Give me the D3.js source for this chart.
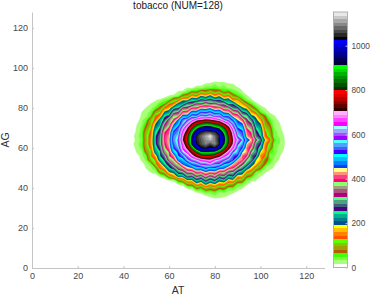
<!DOCTYPE html>
<html>
<head>
<meta charset="utf-8">
<script src="https://cdn.jsdelivr.net/npm/d3@7"></script>
<style>
    body { margin: 0; background: #fff; }
    svg { display: block; font-family: "Liberation Sans", Arial, sans-serif; }
    .axis text { font-size: 9px; fill: #484848; }
    .bar-axis text { font-size: 8.3px; }
    .axis path, .axis line { stroke: #c4c4c4; }
    .label { font-size: 10.5px; fill: #303030; text-anchor: middle; }
</style>
</head>
<body>
<div id="chart"></div>
<script>
// Grid positions
var atGrid = [44,46,48,50,52,54,56,58,60,62,64,66,68,70,72,74,76,78,80,82,84,86,88,90,92,94,96,98,100,102,104,106,108,110,112];
var agGrid = [94,92,90,88,86,84,82,80,78,76,74,72,70,68,66,64,62,60,58,56,54,52,50,48,46,44,42,40,38,36,34];

// Counts per grid cell, one line per AG row (top to bottom), estimated from the colour bands
var counts = [
    0,0,0,0,0,0,0,0,0,0,0,0,0,0,0,0,0,2,6,8,3,0,0,0,0,0,0,0,0,0,0,0,0,0,0,
    0,0,0,0,0,0,0,0,0,0,0,0,0,0,0,8,18,20,30,24,28,18,16,4,0,0,0,0,0,0,0,0,0,0,0,
    0,0,0,0,0,0,0,0,0,0,0,0,18,12,32,26,44,40,52,34,44,26,28,18,12,0,0,0,0,0,0,0,0,0,0,
    0,0,0,0,0,0,0,0,0,0,20,24,42,72,66,104,84,118,84,100,62,74,42,34,18,2,0,0,0,0,0,0,0,0,0,
    0,0,0,0,0,0,0,0,18,24,34,84,96,158,140,194,172,208,160,186,128,146,88,60,40,20,4,0,0,0,0,0,0,0,0,
    0,0,0,0,0,14,20,40,50,100,120,186,182,240,228,272,258,278,248,258,212,220,150,158,70,36,20,3,0,0,0,0,0,0,0,
    0,0,0,0,18,22,50,62,128,146,216,228,288,286,336,328,366,336,352,306,314,252,254,180,162,84,52,24,8,0,0,0,0,0,0,
    0,0,2,18,24,48,72,138,164,238,256,330,336,392,392,434,426,442,404,414,358,352,288,274,200,176,100,58,28,16,2,0,0,0,0,
    0,0,16,24,38,86,116,198,222,304,320,398,408,470,470,518,508,526,488,490,438,430,366,346,266,238,156,122,48,26,14,0,0,0,0,
    0,2,20,28,52,130,150,250,264,366,372,470,466,548,540,608,590,618,570,584,504,510,424,412,318,304,206,182,98,68,26,18,4,0,0,
    0,6,26,46,104,140,222,270,348,390,462,540,580,630,680,700,720,710,690,660,610,570,512,446,404,328,284,204,160,80,52,22,14,0,0,
    0,16,28,64,102,192,228,318,362,444,490,566,640,720,790,830,860,850,820,790,720,660,574,472,458,350,326,220,194,92,68,26,20,6,0,
    2,20,36,80,124,216,258,348,392,480,532,620,700,800,890,950,970,965,930,900,830,730,620,516,490,384,356,250,224,116,84,32,22,10,0,
    4,22,38,102,136,242,270,382,410,526,550,660,740,880,980,1040,1060,1055,1050,980,890,780,660,552,524,412,380,270,238,136,100,38,28,14,0,
    10,28,40,110,144,252,286,396,424,542,570,684,790,920,1040,1080,1110,1145,1080,1040,930,800,684,574,542,424,396,286,250,142,110,36,30,18,2,
    6,24,36,104,150,252,292,400,434,548,580,700,800,940,1040,1070,1100,1120,1090,1030,950,810,700,624,572,478,432,332,288,188,140,56,38,20,4,
    12,28,40,108,150,250,296,386,432,536,576,666,770,930,1030,1065,1090,1060,1095,1040,920,800,690,584,550,434,402,294,258,154,114,40,32,20,6,
    6,24,36,98,138,238,274,374,418,516,558,652,720,850,960,1030,1040,1020,1035,960,860,730,656,560,516,416,376,278,238,144,104,36,28,18,4,
    2,20,28,82,116,222,252,354,386,490,520,620,660,740,830,900,915,905,890,830,740,670,580,556,450,424,316,288,184,154,54,46,24,14,0,
    0,6,26,48,124,164,252,292,382,420,510,540,610,670,730,780,790,790,760,720,660,620,532,516,414,390,284,260,154,130,42,34,20,6,0,
    0,0,20,36,108,130,230,260,356,376,472,488,565,600,630,660,680,690,650,620,590,552,524,430,414,316,296,192,170,68,62,24,16,2,0,
    0,0,6,24,40,120,156,242,274,356,382,460,476,536,550,594,594,626,578,576,514,498,434,404,330,296,214,178,102,68,28,18,8,0,0,
    0,0,0,18,26,50,140,170,248,278,346,372,434,446,496,492,530,502,514,470,462,410,390,326,290,220,178,110,78,30,22,14,2,0,0,
    0,0,0,0,18,24,84,114,190,210,282,304,360,366,414,410,448,420,430,392,384,332,314,250,224,152,120,48,34,20,8,0,0,0,0,
    0,0,0,0,0,6,22,42,116,148,218,222,292,280,342,316,374,326,360,300,324,246,266,170,172,78,66,24,18,4,0,0,0,0,0,
    0,0,0,0,0,0,0,4,18,24,82,114,194,192,258,230,290,248,276,216,244,172,188,108,96,40,26,18,2,0,0,0,0,0,0,
    0,0,0,0,0,0,0,0,0,4,18,26,88,94,174,148,208,166,190,150,154,106,94,48,44,20,4,0,0,0,0,0,0,0,0,
    0,0,0,0,0,0,0,0,0,0,0,4,20,24,78,62,112,90,104,74,84,48,50,24,18,2,0,0,0,0,0,0,0,0,0,
    0,0,0,0,0,0,0,0,0,0,0,0,0,8,18,22,44,38,52,30,36,24,22,12,0,0,0,0,0,0,0,0,0,0,0,
    0,0,0,0,0,0,0,0,0,0,0,0,0,0,0,4,14,20,30,24,22,14,4,0,0,0,0,0,0,0,0,0,0,0,0,
    0,0,0,0,0,0,0,0,0,0,0,0,0,0,0,0,0,2,6,8,2,0,0,0,0,0,0,0,0,0,0,0,0,0,0
];

var axisTicks = [0,20,40,60,80,100,120];
var colorTicks = [0,200,400,600,800,1000];

// Colour of each band, lowest first, each band is bandStep wide
var bandStep = 16;
var bandColors = [
    "#ffffff","#aaff78","#78ff40","#40ff00",
    "#b45a00","#a0a000","#80c800","#60ff00",
    "#ff5000","#ff8000","#ffc000","#ffff00",
    "#005090","#007f90","#00b090","#00ff80",
    "#4b0080","#405f80","#50a080","#50ff80",
    "#b00080","#b05080","#a0a080","#90ff70",
    "#ff0080","#ff4080","#ff9080","#ffff80",
    "#0040ff","#0080ff","#00c0ff","#00ffff",
    "#4000ff","#4060ff","#50a0ff","#50ffff",
    "#a000ff","#a050ff","#a0a0ff","#a0ffff",
    "#ff00ff","#ff40ff","#ff80ff","#ffb0ff",
    "#300000","#600000","#900000","#b80000","#e00000","#ff0000",
    "#003000","#005000","#007000","#009000","#00b000","#00d800","#00ff00",
    "#00003a","#000058","#000078","#000098","#0000b8","#0000d8","#0000ff",
    "#000000","#282828","#484848","#686868","#888888","#a8a8a8","#c8c8c8","#e8e8e8"
];

var width = 370, height = 295;
var left = 32, right = 324.5, top_ = 12, bottom = 268;
var barLeft = 333.5, barRight = 347.5;

var svg = d3.select("#chart").append("svg")
    .attr("width", width)
    .attr("height", height);

var xScale = d3.scaleLinear().domain([0, 128]).range([left, right]);
var yScale = d3.scaleLinear().domain([0, 128]).range([bottom, top_]);
var colorScale = d3.scaleLinear().domain([0, bandStep * bandColors.length]).range([bottom - 0.5, top_]);

// Contours come back in grid coordinates, cell centres sit at i + 0.5
var gridStep = atGrid[1] - atGrid[0];
var toPlot = d3.geoTransform({
    point: function (gx, gy) {
        this.stream.point(
            xScale(atGrid[0] + (gx - 0.5) * gridStep),
            yScale(agGrid[0] - (gy - 0.5) * gridStep)
        );
    }
});

var thresholds = bandColors.map(function (c, i) { return i * bandStep; }).slice(1);

var contours = d3.contours()
    .size([atGrid.length, agGrid.length])
    .thresholds(thresholds)(counts);

svg.append("g")
    .selectAll("path")
    .data(contours)
    .join("path")
    .attr("d", d3.geoPath(toPlot))
    .attr("fill", function (d, i) { return bandColors[i + 1]; })
    .attr("stroke", function (d, i) { return bandColors[i + 1]; })
    .attr("stroke-width", 0.3);

// Axes, ticks point inwards
var xAxis = d3.axisBottom(xScale).tickValues(axisTicks).tickSize(-2).tickPadding(5).tickSizeOuter(0);
var yAxis = d3.axisLeft(yScale).tickValues(axisTicks).tickSize(-2).tickPadding(4).tickSizeOuter(0);

svg.append("g").attr("class", "axis")
    .attr("transform", "translate(0," + bottom + ")")
    .call(xAxis);

svg.append("g").attr("class", "axis")
    .attr("transform", "translate(" + left + ",0)")
    .call(yAxis);

// Colour bar
svg.append("g")
    .attr("shape-rendering", "crispEdges")
    .selectAll("rect")
    .data(bandColors)
    .join("rect")
    .attr("x", barLeft)
    .attr("width", barRight - barLeft)
    .attr("y", function (d, i) { return colorScale((i + 1) * bandStep); })
    .attr("height", function (d, i) { return colorScale(i * bandStep) - colorScale((i + 1) * bandStep); })
    .attr("fill", function (d) { return d; });

svg.append("rect")
    .attr("x", barLeft)
    .attr("y", top_)
    .attr("width", barRight - barLeft)
    .attr("height", bottom - 0.5 - top_)
    .attr("fill", "none")
    .attr("stroke", "#b0b0b0");

var colorAxis = d3.axisRight(colorScale).tickValues(colorTicks).tickFormat(d3.format("d")).tickSize(-2).tickPadding(4).tickSizeOuter(0);

svg.append("g").attr("class", "axis bar-axis")
    .attr("transform", "translate(" + barRight + ",0)")
    .call(colorAxis)
    .call(function (g) { g.select(".domain").remove(); });

// Title and axis labels
svg.append("text").attr("class", "label")
    .attr("x", 178).attr("y", 9)
    .style("font-size", "10px")
    .style("fill", "#202020")
    .text("tobacco (NUM=128)");

svg.append("text").attr("class", "label")
    .attr("x", 178).attr("y", 294)
    .text("AT");

svg.append("text").attr("class", "label")
    .attr("transform", "translate(9,140) rotate(-90)")
    .text("AG");
</script>
</body>
</html>
